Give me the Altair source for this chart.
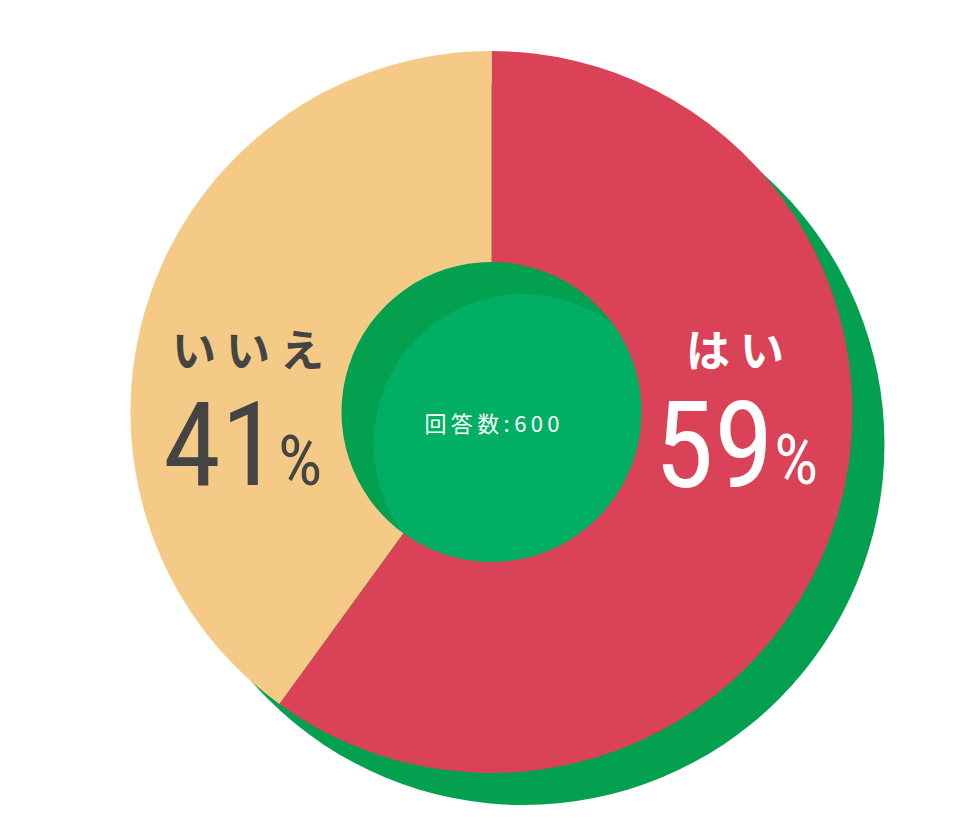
import altair as alt
import pandas as pd

# ---- data ----
answers = ["はい", "いいえ"]
label_percents = [59, 41]          # printed labels
slice_shares = [60, 40]            # slice angles as drawn (boundary at ~216 deg)
slice_colors = ["#D94257", "#F5CA86"]
respondents = 600
center_caption = "回答数"

DARK_GREEN = "#03A050"
LIGHT_GREEN = "#00AF63"
GRAY = "#444444"

JP = "Noto Sans CJK JP"
NUM = "Roboto Condensed"

# layout (chart coordinates)
CX, CY = 483.5, 404
OFF = 32
R_OUT, R_IN = 361, 150

pie_df = pd.DataFrame({"answer": answers, "share": slice_shares, "order": [0, 1]})
one = alt.Data(values=[{"k": 1}])


def disc(x, y, r, color):
    return alt.Chart(one).mark_arc(
        theta=0, theta2=6.2832, outerRadius=r, innerRadius=0, color=color
    ).encode(x=alt.value(x), y=alt.value(y))


shadow = disc(CX + OFF, CY + OFF, R_OUT, DARK_GREEN)
inner_dark = disc(CX, CY, R_IN, DARK_GREEN)
inner_light = disc(CX + OFF, CY + OFF, R_IN, LIGHT_GREEN)

pie = alt.Chart(pie_df).mark_arc(outerRadius=R_OUT, innerRadius=R_IN).encode(
    theta=alt.Theta("share:Q", stack=True),
    color=alt.Color("answer:N", scale=alt.Scale(domain=answers, range=slice_colors), legend=None),
    order=alt.Order("order:Q", sort="ascending"),
    x=alt.value(CX),
    y=alt.value(CY),
)


def txt(s, x, y, size, color, font, weight="normal", align="center"):
    return alt.Chart(alt.Data(values=[{"t": s}])).mark_text(
        fontSize=size, color=color, font=font, fontWeight=weight,
        align=align, baseline="alphabetic"
    ).encode(text="t:N", x=alt.value(x), y=alt.value(y))


yes_label = txt(" ".join(answers[0]), 727, 359, 44, "white", JP, "bold")
yes_num = txt(str(label_percents[0]), 706, 479, 121, "white", NUM, "normal")
yes_pct = txt("%", 766, 476, 70, "white", NUM, "normal", "left")

no_label = txt(" ".join(answers[1]), 240, 359, 44, GRAY, JP, "bold")
no_num = txt(str(label_percents[1]), 213, 477, 117, GRAY, NUM, "normal")
no_pct = txt("%", 270, 477, 70, GRAY, NUM, "normal", "left")

center = txt("\u2009".join(f"{center_caption}:{respondents}"), 484, 424, 22, "white", JP, "normal")

chart = alt.layer(
    shadow, inner_dark, inner_light, pie,
    yes_label, yes_num, yes_pct, no_label, no_num, no_pct, center
).properties(
    width=944, height=816, autosize="none", padding=0, background="white"
).configure_view(stroke=None)

chart.save("out.html", embed_options={"renderer": "svg", "actions": False})
